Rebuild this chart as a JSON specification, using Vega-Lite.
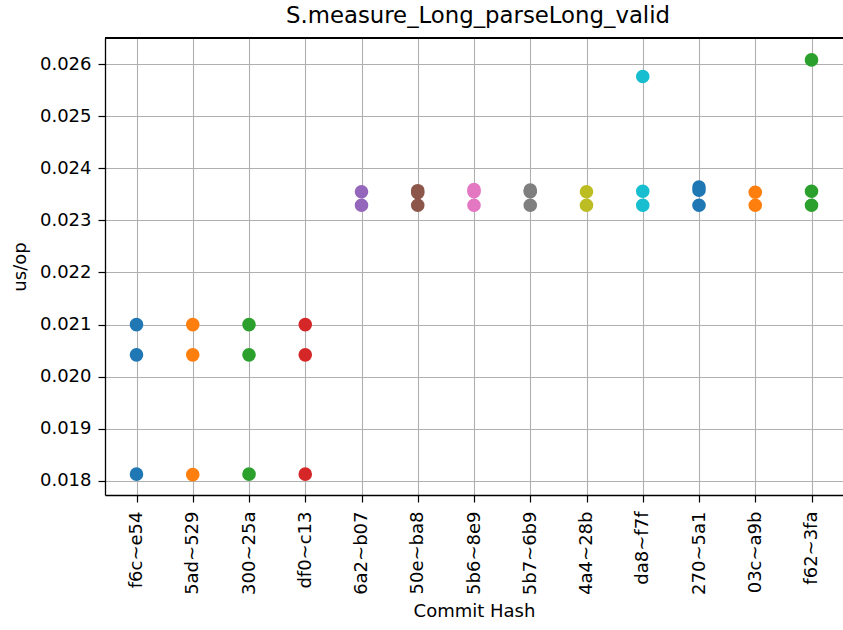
{
  "$schema": "https://vega.github.io/schema/vega-lite/v6.json",
  "autosize": "none",
  "width": 738,
  "height": 457,
  "padding": {"left": 105, "top": 38, "right": 0, "bottom": 135},
  "background": "white",
  "title": {"text": "S.measure_Long_parseLong_valid", "font": "DejaVu Sans", "fontSize": 22.8, "fontWeight": "normal", "color": "black", "offset": 10, "dx": 4},
  "config": {
    "view": {"stroke": null},
    "axis": {
      "labelFont": "DejaVu Sans", "labelFontSize": 18, "labelColor": "black",
      "titleFont": "DejaVu Sans", "titleFontSize": 18, "titleFontWeight": "normal", "titleColor": "black",
      "domainColor": "black", "domainWidth": 1.3, "tickColor": "black", "tickSize": 7, "tickWidth": 1.2,
      "gridColor": "#b0b0b0", "gridWidth": 1.1, "gridOpacity": 1
    }
  },
  "data": {"values": [
    {"commit": "f6c~e54", "value": 0.02100},
    {"commit": "f6c~e54", "value": 0.02042},
    {"commit": "f6c~e54", "value": 0.01813},
    {"commit": "5ad~529", "value": 0.02100},
    {"commit": "5ad~529", "value": 0.02042},
    {"commit": "5ad~529", "value": 0.01812},
    {"commit": "300~25a", "value": 0.02100},
    {"commit": "300~25a", "value": 0.02042},
    {"commit": "300~25a", "value": 0.01813},
    {"commit": "df0~c13", "value": 0.02100},
    {"commit": "df0~c13", "value": 0.02042},
    {"commit": "df0~c13", "value": 0.01813},
    {"commit": "6a2~b07", "value": 0.02355},
    {"commit": "6a2~b07", "value": 0.02329},
    {"commit": "50e~ba8", "value": 0.02357},
    {"commit": "50e~ba8", "value": 0.02353},
    {"commit": "50e~ba8", "value": 0.02329},
    {"commit": "5b6~8e9", "value": 0.02359},
    {"commit": "5b6~8e9", "value": 0.02355},
    {"commit": "5b6~8e9", "value": 0.02329},
    {"commit": "5b7~6b9", "value": 0.02358},
    {"commit": "5b7~6b9", "value": 0.02355},
    {"commit": "5b7~6b9", "value": 0.02329},
    {"commit": "4a4~28b", "value": 0.02355},
    {"commit": "4a4~28b", "value": 0.02329},
    {"commit": "da8~f7f", "value": 0.02576},
    {"commit": "da8~f7f", "value": 0.02356},
    {"commit": "da8~f7f", "value": 0.02329},
    {"commit": "270~5a1", "value": 0.02364},
    {"commit": "270~5a1", "value": 0.02358},
    {"commit": "270~5a1", "value": 0.02329},
    {"commit": "03c~a9b", "value": 0.02354},
    {"commit": "03c~a9b", "value": 0.02329},
    {"commit": "f62~3fa", "value": 0.02608},
    {"commit": "f62~3fa", "value": 0.02356},
    {"commit": "f62~3fa", "value": 0.02329}
  ]},
  "layer": [
    {
      "mark": {"type": "circle", "size": 185, "opacity": 1},
      "encoding": {
        "x": {
          "field": "commit", "type": "nominal", "sort": null,
          "scale": {"type": "point", "padding": 0.56},
          "axis": {"title": "Commit Hash", "labelAngle": -90, "labelPadding": 9, "titlePadding": 8, "grid": true}
        },
        "y": {
          "field": "value", "type": "quantitative",
          "scale": {"domain": [0.01773, 0.02650], "zero": false, "nice": false},
          "axis": {"title": "us/op", "values": [0.018, 0.019, 0.020, 0.021, 0.022, 0.023, 0.024, 0.025, 0.026], "format": ".3f", "labelPadding": 7, "titlePadding": 10, "grid": true}
        },
        "color": {
          "field": "commit", "type": "nominal", "legend": null,
          "scale": {
            "domain": ["f6c~e54", "5ad~529", "300~25a", "df0~c13", "6a2~b07", "50e~ba8", "5b6~8e9", "5b7~6b9", "4a4~28b", "da8~f7f", "270~5a1", "03c~a9b", "f62~3fa"],
            "range": ["#1f77b4", "#ff7f0e", "#2ca02c", "#d62728", "#9467bd", "#8c564b", "#e377c2", "#7f7f7f", "#bcbd22", "#17becf", "#1f77b4", "#ff7f0e", "#2ca02c"]
          }
        }
      }
    },
    {
      "mark": {"type": "rule", "color": "black", "strokeWidth": 1.3},
      "encoding": {"y": {"datum": 0.02650}}
    }
  ]
}
